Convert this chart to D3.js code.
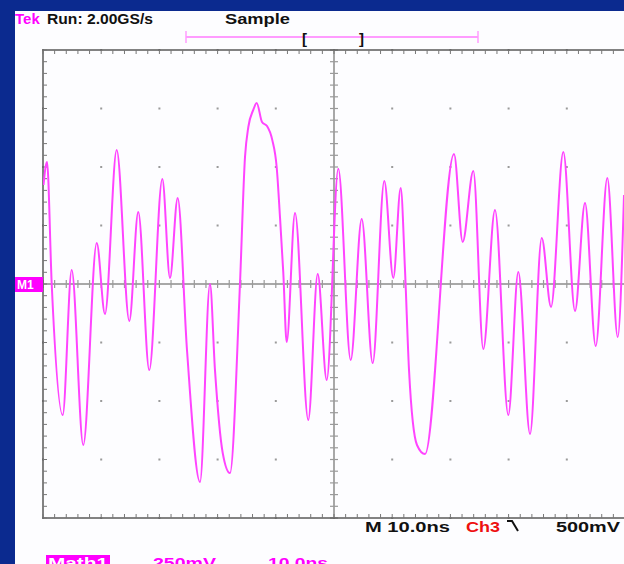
<!DOCTYPE html>
<html>
<head>
<meta charset="utf-8">
<script src="https://cdn.jsdelivr.net/npm/d3@7"></script>
<style>
  html, body { margin: 0; padding: 0; background: #0b2a8f; }
  svg { display: block; }
  text { font-family: "Liberation Sans", Arial, sans-serif; font-weight: bold; }
</style>
</head>
<body>
<svg id="scope" width="624" height="564"></svg>
<script>
// Math1 trace: time (ns) against amplitude (mV)
const timeNs = [
  -49.91, -49.31, -48.51, -46.62, -45.07, -43.08, -40.77, -39.35, -37.34, -35.17,
  -33.63, -31.74, -29.50, -28.18, -26.86, -25.26, -23.02, -21.31, -20.45, -19.12,
  -17.87, -16.15, -15.29, -14.72, -13.87, -13.28, -12.37, -11.51, -10.60, -9.85,
  -9.28, -8.71, -8.13, -6.70, -4.42, -2.80, -1.25, 0.74, 2.87, 4.76,
  6.65, 8.64, 10.19, 11.46, 12.20, 12.89, 14.26, 15.64, 20.62, 22.11,
  23.94, 25.65, 27.66, 29.95, 31.67, 33.68, 35.69, 37.29, 39.40, 41.41,
  43.13, 44.97, 46.96, 48.75, 49.83
];
const mathMv = [
  423, 521, 4, -560, 60, -688, 175, -128, 573, -158,
  308, -368, 449, 26, 368, -282, -846, 0, -368, -722,
  -808, 4, 543, 671, 744, 774, 692, 675, 615, 500,
  286, 47, -248, 303, -581, 43, -410, 492, -325, 278,
  -338, 440, 26, 410, 60, -368, -688, -727, 556, 180,
  483, -278, 316, -560, 51, -641, 197, -98, 564, -115,
  346, -265, 453, -227, 380
];

// Screen settings: 10 ns/div across 10 divisions, 250 mV/div across 8 divisions
const timeDomain = [-50, 50];
const voltDomain = [-1000, 1000];
const timePerDiv = 10;
const voltPerDiv = 250;

// Readout texts
const headerBrand = "Tek";
const headerRun = "Run: 2.00GS/s";
const headerMode = "Sample";
const timebaseLabel = "M 10.0ns";
const triggerSource = "Ch3";
const triggerLevel = "500mV";
const mathLabel = "Math1";
const mathScale = "250mV";
const mathTime = "10.0ns";
const refMarker = "M1";

const svg = d3.select("#scope");
const W = 624, H = 564;
const plotL = 43, plotR = 625, plotT = 50, plotB = 518;

const x = d3.scaleLinear().domain(timeDomain).range([plotL, plotR]);
const y = d3.scaleLinear().domain(voltDomain).range([plotB, plotT]);

// blue backdrop and white screen
svg.append("rect").attr("width", W).attr("height", H).attr("fill", "#0b2a8f");
svg.append("rect").attr("x", 15).attr("y", 11).attr("width", W - 15).attr("height", H - 11).attr("fill", "#fdfdff");

const grat = svg.append("g");

const majorT = d3.range(timeDomain[0], timeDomain[1] + 0.001, timePerDiv);
const minorT = d3.range(timeDomain[0], timeDomain[1] + 0.001, timePerDiv / 5);
const majorV = d3.range(voltDomain[0], voltDomain[1] + 0.001, voltPerDiv);
const minorV = d3.range(voltDomain[0], voltDomain[1] + 0.001, voltPerDiv / 5);

// division dots
majorT.forEach(t => majorV.forEach(v => {
  grat.append("rect").attr("x", x(t) - 1).attr("y", y(v) - 1)
    .attr("width", 2).attr("height", 2).attr("fill", "#9a9a9a");
}));

// centre cross lines with tick marks
grat.append("line").attr("x1", plotL).attr("x2", plotR).attr("y1", y(0)).attr("y2", y(0))
  .attr("stroke", "#a8a8a8").attr("stroke-width", 2);
grat.append("line").attr("x1", x(0)).attr("x2", x(0)).attr("y1", plotT).attr("y2", plotB)
  .attr("stroke", "#a8a8a8").attr("stroke-width", 2);
grat.selectAll(".hct").data(minorT).join("line")
  .attr("x1", d => x(d)).attr("x2", d => x(d))
  .attr("y1", y(0) - 4).attr("y2", y(0) + 4)
  .attr("stroke", "#9a9a9a").attr("stroke-width", 1.2);
grat.selectAll(".vct").data(minorV).join("line")
  .attr("y1", d => y(d)).attr("y2", d => y(d))
  .attr("x1", x(0) - 4).attr("x2", x(0) + 4)
  .attr("stroke", "#9a9a9a").attr("stroke-width", 1.2);

// border with ruler ticks
grat.append("rect").attr("x", plotL).attr("y", plotT).attr("width", plotR - plotL).attr("height", plotB - plotT)
  .attr("fill", "none").attr("stroke", "#5a5a5a").attr("stroke-width", 1.5);
grat.selectAll(".tt").data(minorT).join("line")
  .attr("x1", d => x(d)).attr("x2", d => x(d)).attr("y1", plotT).attr("y2", plotT + 4)
  .attr("stroke", "#777").attr("stroke-width", 1);
grat.selectAll(".bt").data(minorT).join("line")
  .attr("x1", d => x(d)).attr("x2", d => x(d)).attr("y1", plotB).attr("y2", plotB - 4)
  .attr("stroke", "#777").attr("stroke-width", 1);
grat.selectAll(".lt").data(minorV).join("line")
  .attr("y1", d => y(d)).attr("y2", d => y(d)).attr("x1", plotL).attr("x2", plotL + 4)
  .attr("stroke", "#777").attr("stroke-width", 1);

// waveform
svg.append("clipPath").attr("id", "plotClip").append("rect")
  .attr("x", plotL).attr("y", plotT).attr("width", plotR - plotL).attr("height", plotB - plotT);

const pts = timeNs.map((t, i) => [t, mathMv[i]]);
const line = d3.line().x(d => x(d[0])).y(d => y(d[1])).curve(d3.curveMonotoneX);
svg.append("path").attr("d", line(pts)).attr("clip-path", "url(#plotClip)")
  .attr("fill", "none").attr("stroke", "#ff44ff").attr("stroke-width", 2)
  .attr("stroke-linejoin", "round");

// reference marker at left of the centre line
svg.append("rect").attr("x", 15).attr("y", y(0) - 7).attr("width", 28).attr("height", 15).attr("fill", "#ff00ff");
svg.append("text").attr("x", 17).attr("y", y(0) + 5).attr("fill", "#fff").attr("font-size", 12).text(refMarker);

// header readout
svg.append("text").attr("x", 15).attr("y", 24).attr("fill", "#ff00ff").attr("font-size", 15).text(headerBrand);
svg.append("text").attr("x", 47).attr("y", 24).attr("fill", "#111").attr("font-size", 15)
  .attr("textLength", 106).attr("lengthAdjust", "spacingAndGlyphs").text(headerRun);
svg.append("text").attr("x", 225).attr("y", 24).attr("fill", "#111").attr("font-size", 15)
  .attr("textLength", 65).attr("lengthAdjust", "spacingAndGlyphs").text(headerMode);

// record / trigger position bar
svg.append("line").attr("x1", 186).attr("x2", 478).attr("y1", 37).attr("y2", 37).attr("stroke", "#ff9cff").attr("stroke-width", 2);
[186, 478].forEach(px => svg.append("line").attr("x1", px).attr("x2", px).attr("y1", 31).attr("y2", 43)
  .attr("stroke", "#ff9cff").attr("stroke-width", 1.5));
svg.append("text").attr("x", 302).attr("y", 44).attr("fill", "#111").attr("font-size", 15).text("[");
svg.append("text").attr("x", 359).attr("y", 44).attr("fill", "#111").attr("font-size", 15).text("]");

// timebase / trigger readout
svg.append("text").attr("x", 365).attr("y", 532).attr("fill", "#111").attr("font-size", 15)
  .attr("textLength", 85).attr("lengthAdjust", "spacingAndGlyphs").text(timebaseLabel);
svg.append("text").attr("x", 466).attr("y", 532).attr("fill", "#ee1111").attr("font-size", 15)
  .attr("textLength", 34).attr("lengthAdjust", "spacingAndGlyphs").text(triggerSource);
svg.append("path").attr("d", "M507,521 L512,521 L518,531").attr("fill", "none")
  .attr("stroke", "#111").attr("stroke-width", 2);
svg.append("text").attr("x", 556).attr("y", 532).attr("fill", "#111").attr("font-size", 15)
  .attr("textLength", 64).attr("lengthAdjust", "spacingAndGlyphs").text(triggerLevel);

// math channel readout
svg.append("rect").attr("x", 46).attr("y", 555).attr("width", 64).attr("height", 12).attr("fill", "#ff00ff");
svg.append("text").attr("x", 48).attr("y", 568).attr("fill", "#fff").attr("font-size", 15)
  .attr("textLength", 60).attr("lengthAdjust", "spacingAndGlyphs").text(mathLabel);
svg.append("text").attr("x", 153).attr("y", 568).attr("fill", "#ff00ff").attr("font-size", 15)
  .attr("textLength", 63).attr("lengthAdjust", "spacingAndGlyphs").text(mathScale);
svg.append("text").attr("x", 268).attr("y", 568).attr("fill", "#ff00ff").attr("font-size", 15)
  .attr("textLength", 60).attr("lengthAdjust", "spacingAndGlyphs").text(mathTime);
</script>
</body>
</html>
